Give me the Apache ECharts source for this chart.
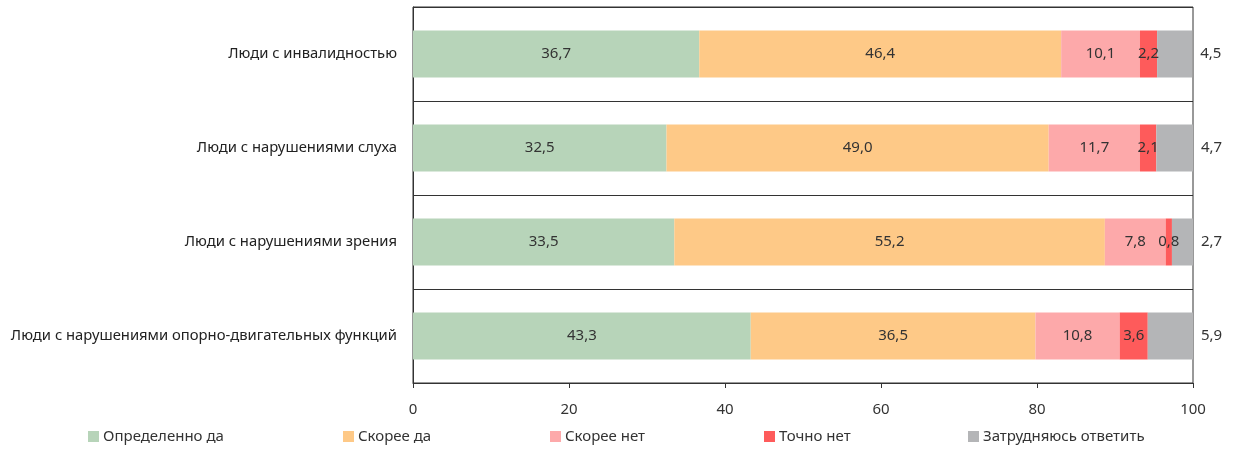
<!DOCTYPE html>
<html><head><meta charset="utf-8">
<script src="https://cdn.jsdelivr.net/npm/echarts@6/dist/echarts.min.js"></script>
<style>html,body{margin:0;padding:0;background:#fff}#c{width:1233px;height:452px}</style>
</head><body><div id="c"></div>
<script>
var categories = ['Люди с инвалидностью','Люди с нарушениями слуха','Люди с нарушениями зрения','Люди с нарушениями опорно-двигательных функций'];
var seriesNames = ['Определенно да','Скорее да','Скорее нет','Точно нет','Затрудняюсь ответить'];
var defYes = [36.7, 32.5, 33.5, 43.3];
var ratherYes = [46.4, 49.0, 55.2, 36.5];
var ratherNo = [10.1, 11.7, 7.8, 10.8];
var defNo = [2.2, 2.1, 0.8, 3.6];
var hardToSay = [4.5, 4.7, 2.7, 5.9];
var xTicks = [0, 20, 40, 60, 80, 100];

var colors = ['#b7d4b9','#fec987','#fda9aa','#fe5b5b','#b4b5b7'];
var values = [defYes, ratherYes, ratherNo, defNo, hardToSay];
var font = '"Noto Sans", "Open Sans", sans-serif';
var fmt = function(p){ return p.value.toFixed(1).replace('.', ','); };

var series = seriesNames.map(function(n, i){
  var last = i === 4;
  return {
    name: n, type: 'bar', stack: 'total', barWidth: '50%',
    data: values[i].slice().reverse(),
    itemStyle: {color: colors[i]},
    label: {
      show: true,
      position: last ? 'right' : 'inside',
      distance: 8,
      color: '#333', fontSize: 15, fontFamily: font,
      formatter: fmt
    }
  };
});

var legendLefts = [88, 343, 550, 764, 968];
var legends = seriesNames.map(function(n, i){
  return {
    data: [n], left: legendLefts[i], top: 429, padding: 0,
    icon: 'rect', itemWidth: 11, itemHeight: 11, itemGap: 4,
    textStyle: {fontSize: 15, color: '#333', fontFamily: font, padding: [0,0,0,-1]}
  };
});

var chart = echarts.init(document.getElementById('c'));
chart.setOption({
  animation: false,
  textStyle: {fontFamily: font},
  legend: legends,
  grid: {left: 413, right: 40, top: 7, bottom: 69, show: true, borderColor: '#333', borderWidth: 1, containLabel: false},
  xAxis: {
    type: 'value', min: 0, max: 100, interval: 20,
    axisLine: {show: true, lineStyle: {color: '#333'}},
    axisTick: {show: true, length: 5, lineStyle: {color: '#333'}},
    axisLabel: {color: '#333', fontSize: 15, margin: 19, fontFamily: font},
    splitLine: {show: false}
  },
  yAxis: {
    type: 'category', data: categories.slice().reverse(),
    axisLine: {show: true, lineStyle: {color: '#333'}},
    axisTick: {show: false},
    splitLine: {show: true, lineStyle: {color: '#333', width: 1}},
    axisLabel: {color: '#222', fontSize: 14.8, margin: 16, fontFamily: font}
  },
  series: series
});
</script></body></html>
